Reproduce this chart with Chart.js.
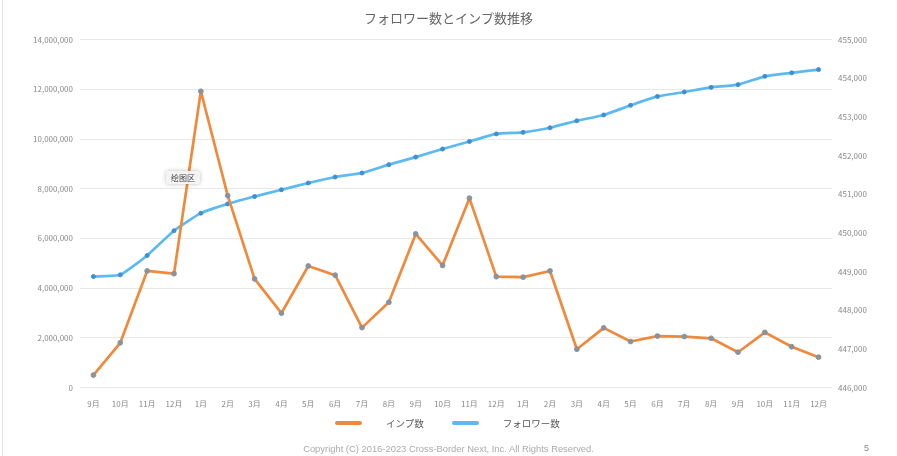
<!DOCTYPE html>
<html lang="ja">
<head>
<meta charset="utf-8">
<script src="https://cdn.jsdelivr.net/npm/chart.js@4"></script>
<style>
  html, body { margin: 0; padding: 0; background: #fff; }
  #wrap { position: relative; width: 897px; height: 456px; overflow: hidden; font-family: "Noto Sans CJK JP", "Noto Sans", sans-serif; }
  #edge { position: absolute; left: 2px; top: 0; width: 1px; height: 456px; background: #e4e4e4; }
  #legend { position: absolute; top: 416px; left: 335px; display: flex; align-items: center; font-size: 9.5px; color: #555; }
  #legend .item { display: flex; align-items: center; margin-right: 28px; }
  #legend .swatch { width: 27px; height: 4px; border-radius: 2px; margin-right: 24px; }
  #footer { position: absolute; top: 443px; left: 0; width: 897px; text-align: center; font-family: "Liberation Sans", Arial, sans-serif; font-size: 9.4px; color: #aaa; }
  #page { position: absolute; top: 443px; left: 864px; font-family: "Liberation Sans", Arial, sans-serif; font-size: 9px; color: #888; }
  #tip { position: absolute; left: 166px; top: 171px; padding: 1px 5px; font-size: 8px; color: #444; background: #f4f4f4; border-radius: 2px; box-shadow: 0 0 4px rgba(0,0,0,0.25); font-family: "Noto Sans CJK SC", sans-serif; }
</style>
</head>
<body>
<div id="wrap">
  <canvas id="chart" width="897" height="456"></canvas>
  <div id="edge"></div>
  <div id="legend"></div>
  <div id="tip">绘图区</div>
  <div id="footer">Copyright (C) 2016-2023 Cross-Border Next, Inc. All Rights Reserved.</div>
  <div id="page">5</div>
</div>
<script>
const months = [
  '9月', '10月', '11月', '12月',
  '1月', '2月', '3月', '4月', '5月', '6月', '7月', '8月', '9月', '10月', '11月', '12月',
  '1月', '2月', '3月', '4月', '5月', '6月', '7月', '8月', '9月', '10月', '11月', '12月'
];

// インプ数 (left axis)
const impressions = [
  500000, 1800000, 4690000, 4580000,
  11920000, 7720000, 4370000, 2990000, 4890000, 4520000, 2410000, 3430000, 6180000, 4910000, 7620000, 4460000,
  4440000, 4690000, 1540000, 2400000, 1850000, 2070000, 2050000, 1980000, 1420000, 2220000, 1640000, 1220000
];

// フォロワー数 (right axis)
const followers = [
  448870, 448915, 449415, 450055,
  450510, 450750, 450940, 451115, 451290, 451445, 451550, 451765, 451960, 452170, 452365, 452560,
  452600, 452720, 452900, 453050, 453300, 453530, 453645, 453765, 453835, 454050, 454140, 454225
];

const orange = '#ef8a3c';
const blue = '#5cbaf1';
const fontFamily = '"Noto Sans CJK JP", "Noto Sans", sans-serif';

Chart.defaults.font.family = fontFamily;
Chart.defaults.color = '#888';

const fmt = (v) => Number(v).toLocaleString('en-US');

const ctx = document.getElementById('chart').getContext('2d');
const chart = new Chart(ctx, {
  type: 'line',
  data: {
    labels: months,
    datasets: [
      {
        label: 'インプ数',
        data: impressions,
        yAxisID: 'y',
        borderColor: orange,
        backgroundColor: orange,
        borderWidth: 2.7,
        borderJoinStyle: 'round',
        pointRadius: 2.4,
        pointBackgroundColor: '#8b929c',
        pointBorderColor: '#8b929c',
        pointBorderWidth: 1,
        tension: 0,
        order: 1
      },
      {
        label: 'フォロワー数',
        data: followers,
        yAxisID: 'y1',
        borderColor: blue,
        backgroundColor: blue,
        borderWidth: 2.7,
        borderJoinStyle: 'round',
        pointRadius: 2,
        pointBackgroundColor: '#3f8fd4',
        pointBorderColor: '#3f8fd4',
        pointBorderWidth: 1,
        tension: 0.15,
        order: 2
      }
    ]
  },
  options: {
    responsive: false,
    animation: false,
    layout: { padding: { top: 0, bottom: 48.5, left: 0, right: 0 } },
    plugins: {
      legend: { display: false },
      tooltip: { enabled: false },
      title: {
        display: true,
        text: 'フォロワー数とインプ数推移',
        color: '#666',
        font: { size: 13, weight: 'normal', family: fontFamily },
        padding: { top: 10, bottom: 14 }
      }
    },
    scales: {
      x: {
        offset: true,
        grid: { display: false },
        border: { display: false },
        ticks: { color: '#888', font: { size: 8 }, padding: 4, maxRotation: 0, autoSkip: false },
        afterFit: (scale) => { scale.height = 20; }
      },
      y: {
        position: 'left',
        min: 0,
        max: 14000000,
        ticks: { stepSize: 2000000, color: '#888', font: { size: 8 }, padding: 7, callback: fmt },
        grid: { color: '#e8e8e8', lineWidth: 1, drawTicks: false },
        border: { display: false },
        afterFit: (scale) => { scale.width = 80; }
      },
      y1: {
        position: 'right',
        min: 446000,
        max: 455000,
        ticks: { stepSize: 1000, color: '#888', font: { size: 8 }, padding: 6, callback: fmt },
        grid: { display: false, drawTicks: false },
        border: { display: false },
        afterFit: (scale) => { scale.width = 65; }
      }
    }
  }
});

// HTML legend built from the datasets
const legendEl = document.getElementById('legend');
chart.data.datasets.forEach((ds) => {
  const item = document.createElement('div');
  item.className = 'item';
  item.innerHTML = `<span class="swatch" style="background:${ds.borderColor}"></span><span>${ds.label}</span>`;
  legendEl.appendChild(item);
});
</script>
</body>
</html>
